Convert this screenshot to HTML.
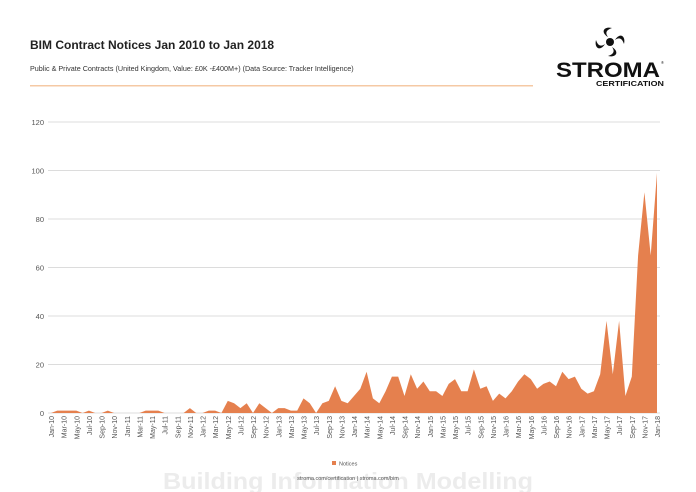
<!DOCTYPE html>
<html><head><meta charset="utf-8"><style>
body{margin:0;background:#fff;}
svg{display:block;font-family:"Liberation Sans",sans-serif;}
</style></head><body>
<svg width="696" height="492" viewBox="0 0 696 492">
<text x="30" y="49" font-size="12" font-weight="bold" fill="#222">BIM Contract Notices Jan 2010 to Jan 2018</text>
<text x="30" y="71" font-size="7.2" fill="#333">Public &amp; Private Contracts (United Kingdom, Value: £0K -£400M+) (Data Source: Tracker Intelligence)</text>
<rect x="30" y="85" width="503" height="1.5" fill="#f5c9a4"/>
<!-- logo -->
<g transform="translate(610,42)" fill="#111">
<circle cx="0" cy="0" r="4"/>
<path d="M-2,-5 C-10,-10 -6,-16 2,-14 C-4,-12 -5,-9 -2,-5Z"/>
<path d="M5,-2 C10,-10 16,-6 14,2 C12,-4 9,-5 5,-2Z"/>
<path d="M2,5 C10,10 6,16 -2,14 C4,12 5,9 2,5Z"/>
<path d="M-5,2 C-10,10 -16,6 -14,-2 C-12,4 -9,5 -5,2Z"/>
</g>
<text x="556" y="77" font-size="21" font-weight="bold" fill="#111" textLength="104" lengthAdjust="spacingAndGlyphs">STROMA</text>
<text x="661" y="64" font-size="4" fill="#111">®</text>
<text x="596" y="86" font-size="7" font-weight="bold" fill="#111" textLength="68" lengthAdjust="spacingAndGlyphs">CERTIFICATION</text>
<!-- grid -->
<g stroke="#dcdcdc" stroke-width="1">
<line x1="48" x2="660" y1="122" y2="122"/><line x1="48" x2="660" y1="170.5" y2="170.5"/>
<line x1="48" x2="660" y1="219" y2="219"/><line x1="48" x2="660" y1="267.5" y2="267.5"/>
<line x1="48" x2="660" y1="316" y2="316"/><line x1="48" x2="660" y1="364.5" y2="364.5"/>
<line x1="48" x2="660" y1="413" y2="413"/>
</g>
<g font-size="7.5" fill="#555" text-anchor="end">
<text x="44" y="125">120</text><text x="44" y="173.5">100</text><text x="44" y="222">80</text>
<text x="44" y="270.5">60</text><text x="44" y="319">40</text><text x="44" y="367.5">20</text><text x="44" y="416">0</text>
</g>
<polygon id="area" fill="#e5804e" points=""/>
<g font-size="7" fill="#555" text-anchor="end">
<text transform="translate(54,416) rotate(-90)">Jan-10</text>
<text transform="translate(66.6,416) rotate(-90)">Mar-10</text>
<text transform="translate(79.3,416) rotate(-90)">May-10</text>
<text transform="translate(91.9,416) rotate(-90)">Jul-10</text>
<text transform="translate(104.5,416) rotate(-90)">Sep-10</text>
<text transform="translate(117.1,416) rotate(-90)">Nov-10</text>
<text transform="translate(129.8,416) rotate(-90)">Jan-11</text>
<text transform="translate(142.4,416) rotate(-90)">Mar-11</text>
<text transform="translate(155,416) rotate(-90)">May-11</text>
<text transform="translate(167.6,416) rotate(-90)">Jul-11</text>
<text transform="translate(180.3,416) rotate(-90)">Sep-11</text>
<text transform="translate(192.9,416) rotate(-90)">Nov-11</text>
<text transform="translate(205.5,416) rotate(-90)">Jan-12</text>
<text transform="translate(218.1,416) rotate(-90)">Mar-12</text>
<text transform="translate(230.8,416) rotate(-90)">May-12</text>
<text transform="translate(243.4,416) rotate(-90)">Jul-12</text>
<text transform="translate(256,416) rotate(-90)">Sep-12</text>
<text transform="translate(268.6,416) rotate(-90)">Nov-12</text>
<text transform="translate(281.3,416) rotate(-90)">Jan-13</text>
<text transform="translate(293.9,416) rotate(-90)">Mar-13</text>
<text transform="translate(306.5,416) rotate(-90)">May-13</text>
<text transform="translate(319.1,416) rotate(-90)">Jul-13</text>
<text transform="translate(331.8,416) rotate(-90)">Sep-13</text>
<text transform="translate(344.4,416) rotate(-90)">Nov-13</text>
<text transform="translate(357,416) rotate(-90)">Jan-14</text>
<text transform="translate(369.6,416) rotate(-90)">Mar-14</text>
<text transform="translate(382.3,416) rotate(-90)">May-14</text>
<text transform="translate(394.9,416) rotate(-90)">Jul-14</text>
<text transform="translate(407.5,416) rotate(-90)">Sep-14</text>
<text transform="translate(420.1,416) rotate(-90)">Nov-14</text>
<text transform="translate(432.8,416) rotate(-90)">Jan-15</text>
<text transform="translate(445.4,416) rotate(-90)">Mar-15</text>
<text transform="translate(458,416) rotate(-90)">May-15</text>
<text transform="translate(470.6,416) rotate(-90)">Jul-15</text>
<text transform="translate(483.3,416) rotate(-90)">Sep-15</text>
<text transform="translate(495.9,416) rotate(-90)">Nov-15</text>
<text transform="translate(508.5,416) rotate(-90)">Jan-16</text>
<text transform="translate(521.1,416) rotate(-90)">Mar-16</text>
<text transform="translate(533.8,416) rotate(-90)">May-16</text>
<text transform="translate(546.4,416) rotate(-90)">Jul-16</text>
<text transform="translate(559,416) rotate(-90)">Sep-16</text>
<text transform="translate(571.6,416) rotate(-90)">Nov-16</text>
<text transform="translate(584.3,416) rotate(-90)">Jan-17</text>
<text transform="translate(596.9,416) rotate(-90)">Mar-17</text>
<text transform="translate(609.5,416) rotate(-90)">May-17</text>
<text transform="translate(622.1,416) rotate(-90)">Jul-17</text>
<text transform="translate(634.8,416) rotate(-90)">Sep-17</text>
<text transform="translate(647.4,416) rotate(-90)">Nov-17</text>
<text transform="translate(660,416) rotate(-90)">Jan-18</text>
</g>
<text x="348" y="489" font-size="23" font-weight="bold" fill="#ececec" text-anchor="middle" textLength="370" lengthAdjust="spacingAndGlyphs">Building Information Modelling</text>
<rect x="332" y="461" width="4" height="4" fill="#e5804e"/>
<text x="339" y="465.5" font-size="5.5" fill="#555">Notices</text>
<text x="348" y="480" font-size="5.5" fill="#555" text-anchor="middle">stroma.com/certification | stroma.com/bim</text>
</svg>
<script>
var v=[0,1,1,1,1,0,1,0,0,1,0,0,
0,0,0,1,1,1,0,0,0,0,2,0,
0,1,1,0,5,4,2,4,0,4,2,0,
2,2,1,1,6,4,0,4,5,11,5,4,
7,10,17,6,4,9,15,15,7,16,10,13,
9,9,7,12,14,9,9,18,10,11,5,8,
6,9,13,16,14,10,12,13,11,17,14,15,
10,8,9,16,38,16,38,7,15,65,91,65,
99];
var p=["51,413"];
for(var i=0;i<v.length;i++){p.push((51+i*6.3125).toFixed(1)+","+(413-v[i]*2.425).toFixed(1));}
p.push("657,413");
document.getElementById("area").setAttribute("points",p.join(" "));
</script>
</body></html>
